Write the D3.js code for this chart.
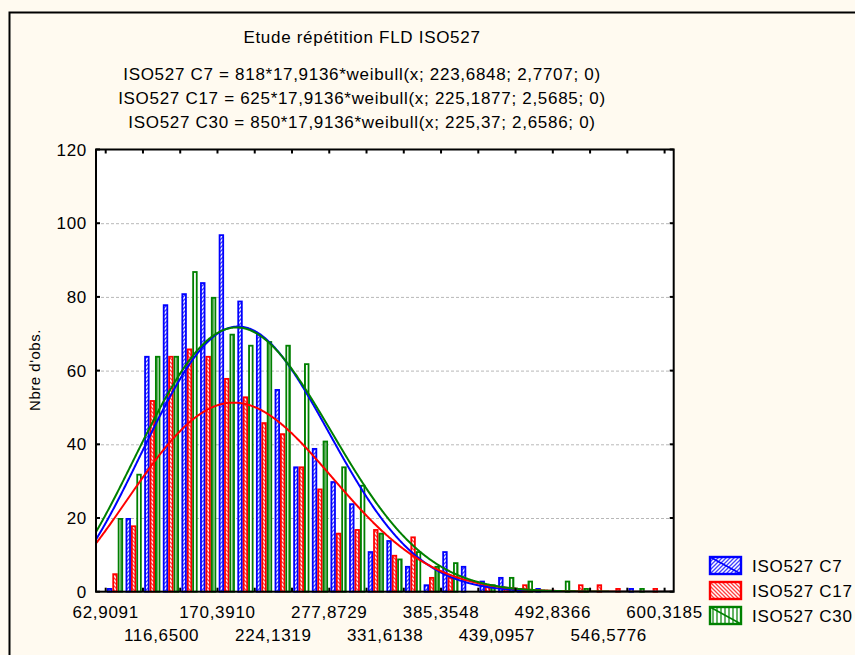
<!DOCTYPE html>
<html>
<head>
<meta charset="utf-8">
<script src="https://cdn.jsdelivr.net/npm/d3@7"></script>
<style>
  html, body { margin: 0; padding: 0; background: #fffaf0; }
  svg { display: block; }
  text { font-family: "Liberation Sans", Arial, sans-serif; fill: #000; }
</style>
</head>
<body>
<svg id="chart" width="855" height="655"></svg>
<script>
// ---- data -------------------------------------------------------------
const chartTitle = "Etude répétition FLD ISO527";
const seriesNames = ["ISO527 C7", "ISO527 C17", "ISO527 C30"];
const seriesColors = ["#0000ff", "#ff0000", "#008000"];
const equationLines = [
  "ISO527 C7 = 818*17,9136*weibull(x; 223,6848; 2,7707; 0)",
  "ISO527 C17 = 625*17,9136*weibull(x; 225,1877; 2,5685; 0)",
  "ISO527 C30 = 850*17,9136*weibull(x; 225,37; 2,6586; 0)"
];

// histogram classes: lower bound of the first class and class width
const binOrigin = 62.9091;
const binWidth = 17.9136;

// observed counts per class (30 classes)
const countsC7  = [1, 20, 64, 78, 81, 84, 97, 79, 70, 55, 34, 39, 30, 24, 11, 14, 7, 2, 11, 7, 3, 4, 1, 1, 0, 0, 0, 0, 1, 0];
const countsC17 = [5, 18, 52, 64, 66, 64, 58, 53, 46, 43, 34, 28, 16, 17, 17, 10, 15, 4, 4, 0, 2, 1, 2, 0, 0, 2, 2, 1, 0, 1];
const countsC30 = [20, 32, 64, 64, 87, 80, 70, 67, 68, 67, 62, 41, 34, 29, 16, 9, 11, 7, 8, 0, 2, 4, 3, 0, 3, 1, 0, 0, 1, 0];

// fitted Weibull parameters (N, scale, shape, threshold)
const fitN = [818, 625, 850];
const fitScale = [223.6848, 225.1877, 225.37];
const fitShape = [2.7707, 2.5685, 2.6586];
const fitThreshold = [0, 0, 0];

const xTickValues = [62.9091, 116.6500, 170.3910, 224.1319, 277.8729, 331.6138, 385.3548, 439.0957, 492.8366, 546.5776, 600.3185];
const xTickLabels = ["62,9091", "116,6500", "170,3910", "224,1319", "277,8729", "331,6138", "385,3548", "439,0957", "492,8366", "546,5776", "600,3185"];
const yTickValues = [0, 20, 40, 60, 80, 100, 120];
const yAxisTitle = "Nbre d'obs.";

// ---- layout -----------------------------------------------------------
const svg = d3.select("#chart");
const plot = { left: 96, right: 673.7, top: 149.5, bottom: 591.7 };

const x = d3.scaleLinear().domain([53.58, 609.07]).range([plot.left, plot.right]);
const y = d3.scaleLinear().domain([0, 120]).range([plot.bottom, plot.top]);

const allCounts = [countsC7, countsC17, countsC30];
const nBins = countsC7.length;
const binLower = d3.range(nBins).map(i => binOrigin + i * binWidth);
const bwPx = x(binOrigin + binWidth) - x(binOrigin);

// outer frame
svg.append("rect")
  .attr("x", 0).attr("y", 0).attr("width", 855).attr("height", 655)
  .attr("fill", "#fffaf0");
svg.append("path")
  .attr("d", "M9.5,700 V12.5 H900")
  .attr("fill", "none").attr("stroke", "#000").attr("stroke-width", 2);

// hatch patterns
const defs = svg.append("defs");
function hatch(id, color, kind) {
  const p = defs.append("pattern")
    .attr("id", id).attr("patternUnits", "userSpaceOnUse")
    .attr("width", 4).attr("height", 4);
  p.append("rect").attr("width", 4).attr("height", 4).attr("fill", "#ffffff");
  let d;
  if (kind === "up") d = "M-1,1 L1,-1 M0,4 L4,0 M3,5 L5,3";
  else if (kind === "down") d = "M-1,3 L1,5 M0,0 L4,4 M3,-1 L5,1";
  else d = "M1,0 V4";
  p.append("path").attr("d", d).attr("stroke", color)
    .attr("stroke-opacity", 0.75).attr("stroke-width", kind === "vert" ? 1.6 : 1.3);
  return `url(#${id})`;
}
const fills = [
  hatch("hatchC7", seriesColors[0], "up"),
  hatch("hatchC17", seriesColors[1], "down"),
  hatch("hatchC30", seriesColors[2], "vert")
];

defs.append("clipPath").attr("id", "plotClip")
  .append("rect")
  .attr("x", plot.left).attr("y", plot.top)
  .attr("width", plot.right - plot.left).attr("height", plot.bottom - plot.top);

// plot background
svg.append("rect")
  .attr("x", plot.left).attr("y", plot.top)
  .attr("width", plot.right - plot.left).attr("height", plot.bottom - plot.top)
  .attr("fill", "#ffffff");

// horizontal grid
svg.append("g").selectAll("line")
  .data(yTickValues.filter(v => v > 0 && v < 120))
  .join("line")
  .attr("x1", plot.left).attr("x2", plot.right)
  .attr("y1", d => y(d) + 0.5).attr("y2", d => y(d) + 0.5)
  .attr("stroke", "#b8b8b8").attr("stroke-width", 1)
  .attr("stroke-dasharray", "3,2");

// bars
const subOffset = 0.065 * bwPx;
const subWidth = 0.29 * bwPx;
const barStroke = 1.8;
const barsG = svg.append("g");
allCounts.forEach((counts, s) => {
  barsG.append("g").selectAll("rect")
    .data(counts.map((c, i) => ({ c, lo: binLower[i] })).filter(d => d.c > 0))
    .join("rect")
    .attr("x", d => x(d.lo) + subOffset + s * subWidth + barStroke / 2)
    .attr("width", subWidth - barStroke)
    .attr("y", d => y(d.c) + barStroke / 2)
    .attr("height", d => y(0) - y(d.c) - barStroke / 2)
    .attr("fill", fills[s])
    .attr("stroke", seriesColors[s])
    .attr("stroke-width", barStroke);
});

// fitted Weibull curves (expected counts per class)
function weibullPdf(v, b, c, t) {
  const z = (v - t) / b;
  if (z <= 0) return 0;
  return (c / b) * Math.pow(z, c - 1) * Math.exp(-Math.pow(z, c));
}
const xs = d3.range(x.domain()[0], x.domain()[1] + 0.5, 0.5);
const line = d3.line().x(d => x(d[0])).y(d => y(d[1]));
const curvesG = svg.append("g").attr("clip-path", "url(#plotClip)");
[0, 1, 2].forEach(s => {
  const pts = xs.map(v => [v, fitN[s] * binWidth * weibullPdf(v, fitScale[s], fitShape[s], fitThreshold[s])]);
  curvesG.append("path")
    .attr("d", line(pts))
    .attr("fill", "none")
    .attr("stroke", seriesColors[s])
    .attr("stroke-width", 2);
});

// frame
svg.append("rect")
  .attr("x", plot.left).attr("y", plot.top)
  .attr("width", plot.right - plot.left).attr("height", plot.bottom - plot.top)
  .attr("fill", "none").attr("stroke", "#000").attr("stroke-width", 2);

// inside ticks: y on both sides, x every second class on top and bottom
const tickLen = 4;
const tickG = svg.append("g").attr("stroke", "#000").attr("stroke-width", 2);
yTickValues.forEach(v => {
  tickG.append("line").attr("x1", plot.left).attr("x2", plot.left + tickLen)
    .attr("y1", y(v)).attr("y2", y(v));
  tickG.append("line").attr("x1", plot.right).attr("x2", plot.right - tickLen)
    .attr("y1", y(v)).attr("y2", y(v));
});
const xMinor = d3.range(0, nBins + 1, 2).map(i => binOrigin + i * binWidth);
xMinor.forEach(v => {
  tickG.append("line").attr("x1", x(v)).attr("x2", x(v))
    .attr("y1", plot.bottom).attr("y2", plot.bottom - tickLen);
  tickG.append("line").attr("x1", x(v)).attr("x2", x(v))
    .attr("y1", plot.top).attr("y2", plot.top + tickLen);
});

// axis labels
const labelFont = 17;
const spacing = "0.7px";
svg.append("g").selectAll("text")
  .data(yTickValues)
  .join("text")
  .attr("x", 87).attr("y", d => y(d) + 6)
  .attr("text-anchor", "end")
  .attr("font-size", labelFont).attr("letter-spacing", spacing)
  .text(d => d);

svg.append("g").selectAll("text")
  .data(xTickValues.map((v, i) => ({ v, label: xTickLabels[i], row: i % 2 })))
  .join("text")
  .attr("x", d => x(d.v))
  .attr("y", d => d.row === 0 ? 618 : 641)
  .attr("text-anchor", "middle")
  .attr("font-size", labelFont).attr("letter-spacing", spacing)
  .text(d => d.label);

svg.append("text")
  .attr("transform", "translate(40,370) rotate(-90)")
  .attr("text-anchor", "middle")
  .attr("font-size", 15).attr("letter-spacing", "0.5px")
  .text(yAxisTitle);

// title and fitted equations
svg.append("text")
  .attr("x", 362).attr("y", 43)
  .attr("text-anchor", "middle")
  .attr("font-size", labelFont).attr("letter-spacing", spacing)
  .text(chartTitle);
svg.append("g").selectAll("text")
  .data(equationLines)
  .join("text")
  .attr("x", 362).attr("y", (d, i) => 80 + i * 24)
  .attr("text-anchor", "middle")
  .attr("font-size", labelFont).attr("letter-spacing", spacing)
  .text(d => d);

// legend
const legend = svg.append("g");
seriesNames.forEach((name, s) => {
  const ly = 556 + s * 25;
  legend.append("rect")
    .attr("x", 710).attr("y", ly + 1)
    .attr("width", 31).attr("height", 17)
    .attr("fill", fills[s])
    .attr("stroke", seriesColors[s]).attr("stroke-width", 2.4);
  if (s !== 1) {
    legend.append("line")
      .attr("x1", 710).attr("y1", ly + 1).attr("x2", 741).attr("y2", ly + 18)
      .attr("stroke", seriesColors[s]).attr("stroke-width", 1.5);
  }
  legend.append("text")
    .attr("x", 752).attr("y", ly + 15.5)
    .attr("font-size", labelFont).attr("letter-spacing", spacing)
    .text(name);
});
</script>
</body>
</html>
